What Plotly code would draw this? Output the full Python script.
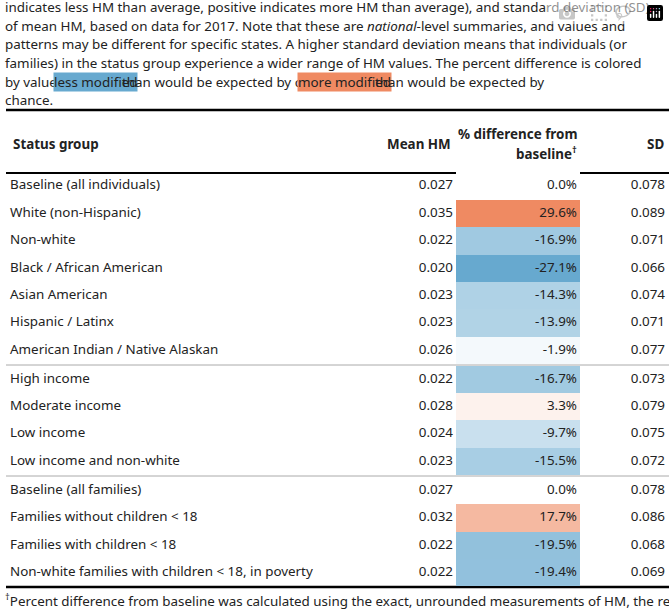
import plotly.graph_objects as go
from plotly.colors import sample_colorscale

groups = ["Baseline (all individuals)", "White (non-Hispanic)", "Non-white",
          "Black / African American", "Asian American", "Hispanic / Latinx",
          "American Indian / Native Alaskan", "High income", "Moderate income",
          "Low income", "Low income and non-white", "Baseline (all families)",
          "Families without children < 18", "Families with children < 18",
          "Non-white families with children < 18, in poverty"]
section = [0, 0, 0, 0, 0, 0, 0, 1, 1, 1, 1, 2, 2, 2, 2]
mean_hm = [0.027, 0.035, 0.022, 0.020, 0.023, 0.023, 0.026,
           0.022, 0.028, 0.024, 0.023, 0.027, 0.032, 0.022, 0.022]
pct_diff = [0.0, 29.6, -16.9, -27.1, -14.3, -13.9, -1.9,
            -16.7, 3.3, -9.7, -15.5, 0.0, 17.7, -19.5, -19.4]
sd = [0.078, 0.089, 0.071, 0.066, 0.074, 0.071, 0.077,
      0.073, 0.079, 0.075, 0.072, 0.078, 0.086, 0.068, 0.069]

para = [
    "indicates less HM than average, positive indicates more HM than average), and standard deviation (SD)",
    "of mean HM, based on data for 2017. Note that these are <i>national</i>-level summaries, and values and",
    "patterns may be different for specific states. A higher standard deviation means that individuals (or",
    "families) in the status group experience a wider range of HM values. The percent difference is colored",
]
footer = [
    "<sup>†</sup>Percent difference from baseline was calculated using the exact, unrounded measurements of HM, the reported",
    "values may differ from what would be obtained using the rounded mean HM values provided in the table.",
]

FONT = "Noto Sans"
FS = 13.4
row_y = [186 + 27.4 * i + 1.5 * s for i, s in enumerate(section)]
lo, hi = -27.1, 29.6
scale = [[0, "#67a9cf"], [-lo / (hi - lo), "#ffffff"], [1, "#ef8a62"]]
cell_colors = sample_colorscale(scale, [(v - lo) / (hi - lo) for v in pct_diff])

fig = go.Figure()
fig.add_trace(go.Bar(y=row_y, x=[124] * len(row_y), base=456, orientation="h",
                     width=27.4, marker=dict(color=cell_colors, line_width=0),
                     hoverinfo="skip"))
tf = dict(family=FONT, size=FS, color="#222")
fig.add_trace(go.Scatter(x=[10] * len(groups), y=row_y, text=groups, mode="text",
                         textposition="middle right", textfont=tf))
fig.add_trace(go.Scatter(x=[453] * len(groups), y=row_y, text=[f"{v:.3f}" for v in mean_hm],
                         mode="text", textposition="middle left", textfont=tf))
fig.add_trace(go.Scatter(x=[577] * len(groups), y=row_y, text=[f"{v:.1f}%" for v in pct_diff],
                         mode="text", textposition="middle left", textfont=tf))
fig.add_trace(go.Scatter(x=[665] * len(groups), y=row_y, text=[f"{v:.3f}" for v in sd],
                         mode="text", textposition="middle left", textfont=tf))

ann = []
def txt(x, y, s, anchor="left", bold=False, bg=None):
    ann.append(dict(x=x, y=y, xref="x", yref="y", text=f"<b>{s}</b>" if bold else s,
                    showarrow=False, xanchor=anchor, yanchor="middle",
                    font=dict(family=FONT, size=FS, color="#222"),
                    bgcolor=bg, borderpad=0))

for i, line in enumerate(para):
    txt(4, 7 + 18.7 * i, line)
y5 = 7 + 18.7 * 4
txt(4, y5, "by value:")
txt(53, y5, "less modified", bg="#67a9cf")
txt(121, y5, "than would be expected by chance,")
txt(297, y5, "more modified", bg="#ef8a62")
txt(374, y5, "than would be expected by")
txt(4, 100, "chance.")
txt(12, 144, "Status group", bold=True)
txt(452, 144, "Mean HM", anchor="right", bold=True)
txt(578, 134, "% difference from", anchor="right", bold=True)
txt(578, 153, "baseline<sup>†</sup>", anchor="right", bold=True)
txt(665, 144, "SD", anchor="right", bold=True)
for i, line in enumerate(footer):
    txt(4, 600 + 17 * i, line)

shapes = [
    dict(type="line", x0=6, x1=669, y0=110, y1=110, line=dict(color="black", width=2.5)),
    dict(type="line", x0=6, x1=456, y0=173, y1=173, line=dict(color="black", width=2)),
    dict(type="line", x0=580, x1=669, y0=173, y1=173, line=dict(color="black", width=2)),
    dict(type="line", x0=6, x1=669, y0=365, y1=365, line=dict(color="#aaa", width=1)),
    dict(type="line", x0=6, x1=669, y0=476, y1=476, line=dict(color="#aaa", width=1)),
    dict(type="line", x0=6, x1=669, y0=587, y1=587, line=dict(color="black", width=2.5)),
]
for sh in shapes:
    sh["xref"], sh["yref"], sh["layer"] = "x", "y", "below"

fig.update_layout(width=669, height=616, margin=dict(l=0, r=0, t=0, b=0),
                  plot_bgcolor="white", paper_bgcolor="white", showlegend=False,
                  annotations=ann, shapes=shapes, bargap=0,
                  xaxis=dict(range=[0, 669], visible=False, fixedrange=True),
                  yaxis=dict(range=[616, 0], visible=False, fixedrange=True))
fig.write_html("out.html", post_script="document.body.style.margin='0';")
